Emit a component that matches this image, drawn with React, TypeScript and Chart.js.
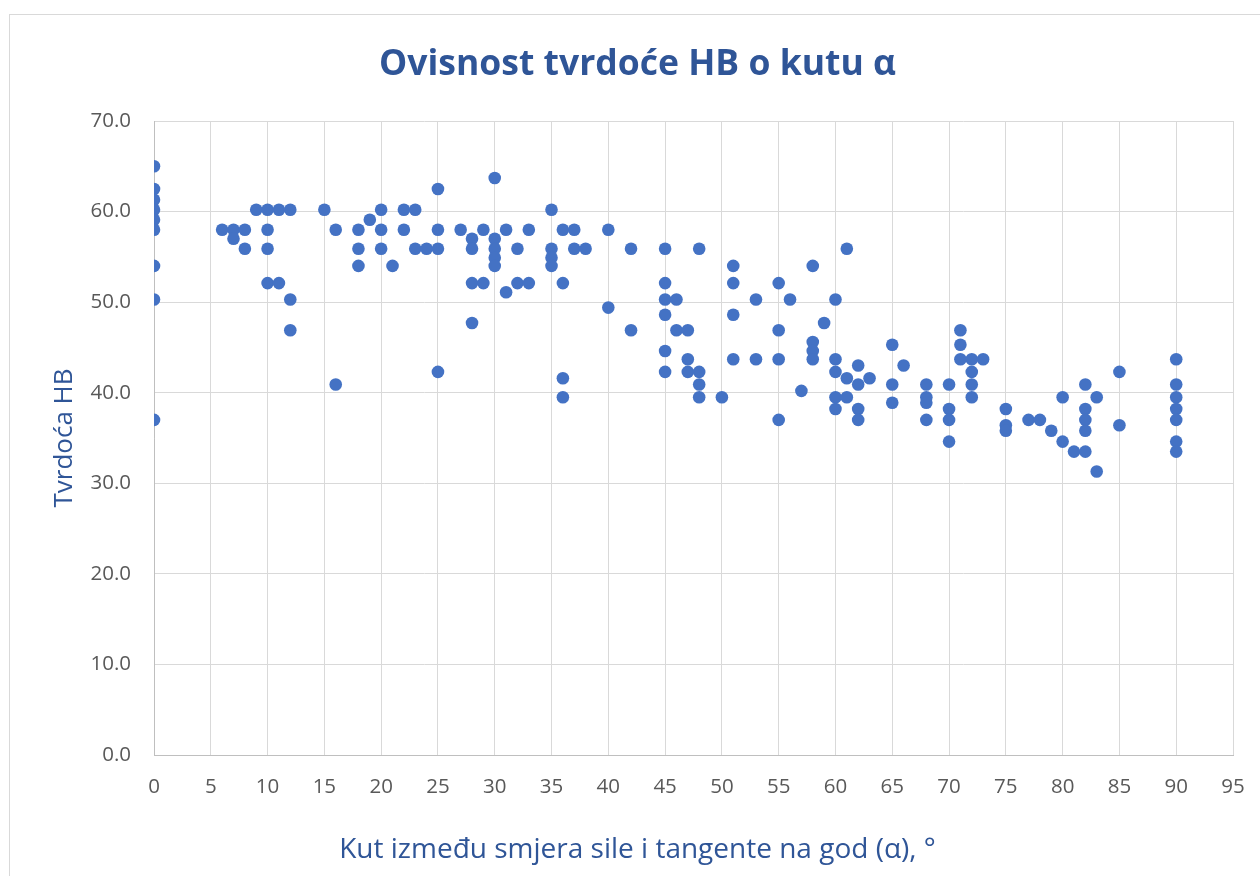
import React, { useEffect, useRef } from "react";
import { Chart, registerables } from "chart.js";

Chart.register(...registerables);

// Angle between force direction and grain tangent (α), degrees
const angleDeg: number[] = [
  0, 0, 0, 0, 0, 0, 0, 0, 0,
  6, 7, 7, 8, 8, 9,
  10, 10, 10, 10, 11, 11, 12, 12, 12, 15, 16, 16,
  18, 18, 18, 19, 20, 20, 20, 21, 22, 22, 23, 23, 24,
  25, 25, 25, 25, 27, 28, 28, 28, 28, 29, 29,
  30, 30, 30, 30, 30, 31, 31, 32, 32, 33, 33,
  35, 35, 35, 35, 36, 36, 36, 36, 37, 37, 38,
  40, 40, 42, 42,
  45, 45, 45, 45, 45, 45, 46, 46, 47, 47, 47, 48, 48, 48, 48,
  50, 51, 51, 51, 51, 53, 53, 55, 55, 55, 55, 56, 57,
  58, 58, 58, 58, 59, 60, 60, 60, 60, 60, 61, 61, 61,
  62, 62, 62, 62, 63, 65, 65, 65, 66, 68, 68, 68, 68,
  70, 70, 70, 70, 71, 71, 71, 72, 72, 72, 72, 73,
  75, 75, 75, 77, 78, 79, 80, 80, 81,
  82, 82, 82, 82, 82, 83, 83, 85, 85,
  90, 90, 90, 90, 90, 90, 90,
];

// Brinell hardness HB
const hardnessHB: number[] = [
  65.0, 62.5, 61.3, 60.2, 59.1, 58.0, 54.0, 50.3, 37.0,
  58.0, 58.0, 57.0, 58.0, 55.9, 60.2,
  60.2, 58.0, 55.9, 52.1, 60.2, 52.1, 60.2, 50.3, 46.9, 60.2, 58.0, 40.9,
  58.0, 55.9, 54.0, 59.1, 60.2, 58.0, 55.9, 54.0, 60.2, 58.0, 60.2, 55.9, 55.9,
  62.5, 58.0, 55.9, 42.3, 58.0, 57.0, 55.9, 52.1, 47.7, 58.0, 52.1,
  63.7, 57.0, 55.9, 54.9, 54.0, 58.0, 51.1, 55.9, 52.1, 58.0, 52.1,
  60.2, 55.9, 54.9, 54.0, 58.0, 52.1, 41.6, 39.5, 58.0, 55.9, 55.9,
  58.0, 49.4, 55.9, 46.9,
  55.9, 52.1, 50.3, 48.6, 44.6, 42.3, 50.3, 46.9, 46.9, 43.7, 42.3, 55.9, 42.3, 40.9, 39.5,
  39.5, 54.0, 52.1, 48.6, 43.7, 50.3, 43.7, 52.1, 46.9, 43.7, 37.0, 50.3, 40.2,
  54.0, 45.6, 44.6, 43.7, 47.7, 50.3, 43.7, 42.3, 39.5, 38.2, 55.9, 41.6, 39.5,
  43.0, 40.9, 38.2, 37.0, 41.6, 45.3, 40.9, 38.9, 43.0, 40.9, 39.5, 38.9, 37.0,
  40.9, 38.2, 37.0, 34.6, 46.9, 45.3, 43.7, 43.7, 42.3, 40.9, 39.5, 43.7,
  38.2, 36.4, 35.8, 37.0, 37.0, 35.8, 39.5, 34.6, 33.5,
  40.9, 38.2, 37.0, 35.8, 33.5, 39.5, 31.3, 42.3, 36.4,
  43.7, 40.9, 39.5, 38.2, 37.0, 34.6, 33.5,
];

const chartTitle = "Ovisnost tvrdoće HB o kutu α";
const xAxisTitle = "Kut između smjera sile i tangente na god (α), °";
const yAxisTitle = "Tvrdoća HB";

const X_MIN = 0;
const X_MAX = 95;
const X_STEP = 5;
const Y_MIN = 0;
const Y_MAX = 70;
const Y_STEP = 10;

const BLUE = "#4472C4";
const TITLE_BLUE = "#2F5597";
const TICK_GRAY = "#595959";
const GRID_GRAY = "#d9d9d9";
const FONT = "'Open Sans', Lato, sans-serif";

export default function App() {
  const canvasRef = useRef<HTMLCanvasElement | null>(null);

  useEffect(() => {
    if (!canvasRef.current) return;
    const points = angleDeg.map((x, i) => ({ x, y: hardnessHB[i] }));
    const chart = new Chart(canvasRef.current, {
      type: "scatter",
      data: {
        datasets: [
          {
            label: "HB",
            data: points,
            backgroundColor: BLUE,
            borderColor: BLUE,
            pointRadius: 6.3,
            pointBorderWidth: 0,
            pointHoverRadius: 6.3,
          },
        ],
      },
      options: {
        animation: false,
        responsive: true,
        maintainAspectRatio: false,
        layout: { padding: { left: 42, right: 27, top: 0, bottom: 0 } },
        plugins: {
          legend: { display: false },
          tooltip: { enabled: false },
          title: {
            display: true,
            text: chartTitle,
            color: TITLE_BLUE,
            font: { family: FONT, size: 35.5, weight: "bold" },
            padding: { top: 44, bottom: 34.4 },
          },
          subtitle: {
            display: true,
            position: "bottom",
            text: xAxisTitle,
            color: TITLE_BLUE,
            font: { family: FONT, size: 28, weight: "normal" },
            padding: { top: 0, bottom: 9.2 },
          },
        },
        scales: {
          x: {
            type: "linear",
            min: X_MIN,
            max: X_MAX,
            ticks: {
              stepSize: X_STEP,
              color: TICK_GRAY,
              font: { family: FONT, size: 20.5 },
              padding: 20,
              maxRotation: 0,
            },
            grid: { color: GRID_GRAY, drawTicks: false, lineWidth: 1 },
            border: { color: "#bfbfbf" },
            afterFit: (s: any) => {
              s.height = 78.2;
              s.paddingLeft = 0;
              s.paddingRight = 0;
            },
          },
          y: {
            type: "linear",
            min: Y_MIN,
            max: Y_MAX,
            ticks: {
              stepSize: Y_STEP,
              color: TICK_GRAY,
              font: { family: FONT, size: 20.5 },
              padding: 23,
              callback: (v: any) => Number(v).toFixed(1),
            },
            grid: { color: GRID_GRAY, drawTicks: false, lineWidth: 1 },
            border: { color: "#bfbfbf" },
            title: {
              display: true,
              text: yAxisTitle,
              color: TITLE_BLUE,
              font: { family: FONT, size: 26, weight: "normal" },
              padding: { top: 7, bottom: 0 },
            },
            afterFit: (s: any) => {
              s.width = 112;
            },
          },
        },
      },
    });
    return () => chart.destroy();
  }, []);

  return (
    <>
      <div
        style={{
          position: "fixed",
          left: 9,
          top: 14,
          width: 1300,
          height: 900,
          border: "1px solid #d9d9d9",
          boxSizing: "border-box",
          pointerEvents: "none",
        }}
      />
      <div style={{ position: "fixed", left: 0, top: 0, width: 1260, height: 876 }}>
        <canvas ref={canvasRef} />
      </div>
    </>
  );
}
